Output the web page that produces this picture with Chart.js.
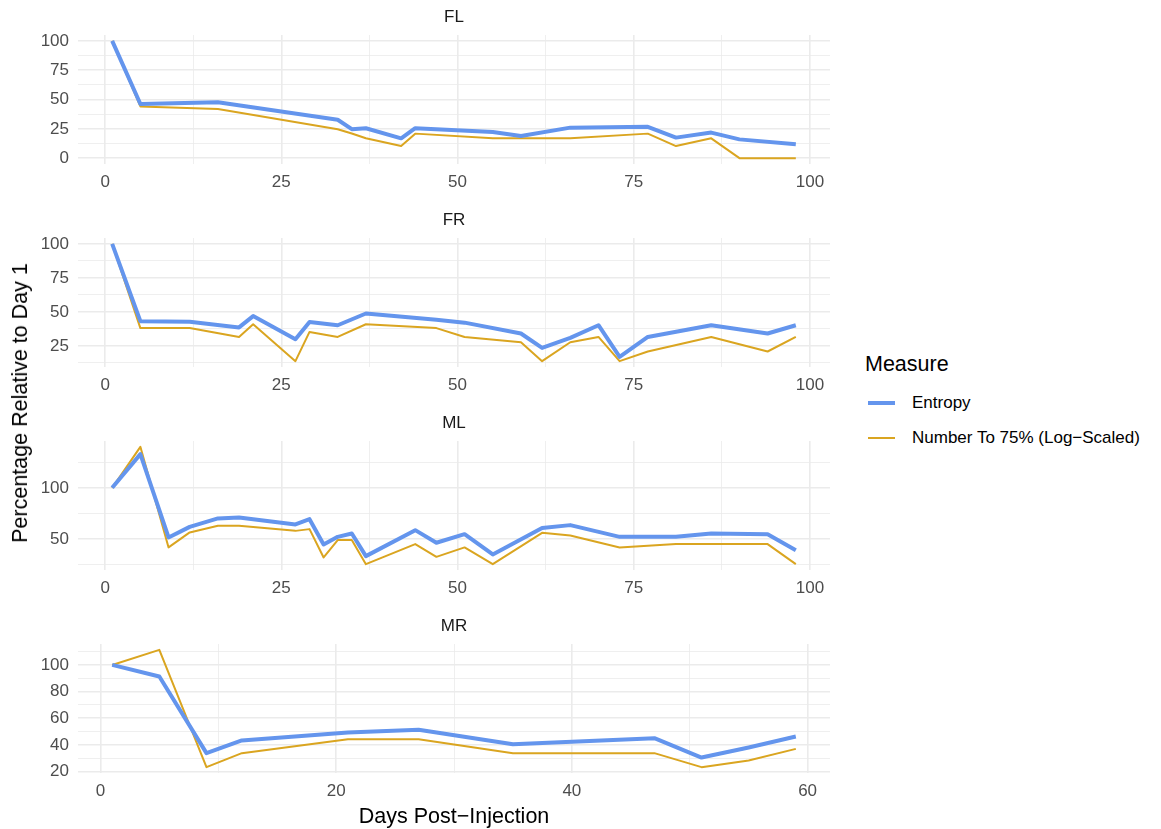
<!DOCTYPE html>
<html>
<head>
<meta charset="utf-8">
<script src="https://cdn.jsdelivr.net/npm/chart.js@4.4.1/dist/chart.umd.min.js"></script>
<style>
  html, body { margin: 0; padding: 0; background: #fff; }
  body { width: 1161px; height: 829px; position: relative; overflow: hidden; font-family: "Liberation Sans", Arial, sans-serif; }
  canvas { position: absolute; left: 0; }
  .strip { position: absolute; width: 200px; margin-left: -100px; text-align: center; font-size: 17px; color: #1a1a1a; line-height: 20px; }
  .axis-title { position: absolute; font-size: 21.5px; color: #000; white-space: nowrap; line-height: 26px; }
  .legend-title { position: absolute; left: 865px; top: 351px; font-size: 21.5px; line-height: 26px; color: #000; }
  .key { position: absolute; left: 868px; width: 27px; }
  .key-label { position: absolute; left: 912px; font-size: 17px; line-height: 20px; color: #000; white-space: nowrap; }
</style>
</head>
<body>

<script>
// Days post-injection and values (% of day 1) per panel
const flDays = [1, 5, 16, 33, 35, 37, 42, 44, 55, 59, 66, 77, 81, 86, 90, 98];
const flEntropy = [100, 46.2, 47.6, 32.7, 24.7, 25.5, 16.9, 25.5, 22.3, 18.9, 26, 26.7, 17.5, 21.8, 16, 11.8];
const flNumber = [100, 44.1, 41.9, 24.7, 21, 16.9, 10.3, 20.9, 16.9, 16.9, 16.9, 20.9, 10.3, 16.9, 0, 0];

const frDays = [1, 5, 12, 19, 21, 27, 29, 33, 37, 47, 51, 59, 62, 66, 70, 73, 77, 86, 94, 98];
const frEntropy = [100, 43.2, 42.7, 38.6, 46.9, 29.9, 42.6, 40.2, 48.8, 44.3, 42.1, 34.1, 23.5, 30.9, 40.2, 17.0, 31.6, 40.2, 34.1, 40.2];
const frNumber = [100, 38.1, 38.1, 31.6, 40.9, 13.8, 35.3, 31.6, 40.9, 38.1, 31.6, 27.7, 13.8, 27.7, 31.6, 13.8, 20.9, 31.6, 20.9, 31.6];

const mlDays = [1, 5, 9, 12, 16, 19, 27, 29, 31, 33, 35, 37, 44, 47, 51, 55, 62, 66, 73, 81, 86, 94, 98];
const mlEntropy = [100, 132.8, 51.7, 62, 70.2, 71.2, 64.4, 69.5, 44.8, 52.3, 55.6, 33.5, 58.8, 46.5, 54.9, 35.1, 61, 63.7, 52.3, 52.3, 55.6, 54.9, 39.3];
const mlNumber = [100, 139.9, 42, 56.6, 63, 63, 58.1, 59.8, 32.2, 49.1, 49.1, 25.7, 45.2, 32.8, 42, 25.7, 56.2, 53.6, 42, 45.2, 45.2, 45.2, 25.7];

const mrDays = [1, 5, 9, 12, 21, 27, 35, 47, 51, 55, 59];
const mrEntropy = [100, 91.3, 33.8, 43.3, 49.3, 51.3, 40.5, 45, 30.5, 38, 46.3];
const mrNumber = [100, 111.3, 23.3, 33.8, 44.3, 44.3, 33.8, 33.8, 23.3, 28.3, 37.0];

// tick labels (major) and grid lines (major + minor)
const dayTicks100 = [0, 25, 50, 75, 100];
const dayGrid100 = [0, 12.5, 25, 37.5, 50, 62.5, 75, 87.5, 100];
const dayTicks60 = [0, 20, 40, 60];
const dayGrid60 = [0, 10, 20, 30, 40, 50, 60];
const pctTicksFL = [0, 25, 50, 75, 100];
const pctGridFL = [0, 12.5, 25, 37.5, 50, 62.5, 75, 87.5, 100];
const pctTicksFR = [25, 50, 75, 100];
const pctGridFR = [12.5, 25, 37.5, 50, 62.5, 75, 87.5, 100];
const pctTicksML = [50, 100];
const pctGridML = [25, 50, 75, 100, 125];
const pctTicksMR = [20, 40, 60, 80, 100];
const pctGridMR = [20, 30, 40, 50, 60, 70, 80, 90, 100, 110];

const seriesNames = ["Entropy", "Number To 75% (Log\u2212Scaled)"];

const COLORS = {
  entropy: "#6495ED",
  number: "#DAA520",
  grid: "#EBEBEB",
  tick: "#4d4d4d",
};

const PLOT_LEFT = 78;
const PLOT_RIGHT = 830;
const PLOT_H = 129;
const PAD_TOP = 24; // must exceed the y axis label overhang (half label + padding)
const XAXIS_H = 36;

const panels = [
  { name: "FL", top: 35, days: flDays, a: flEntropy, b: flNumber, x: [-3.85, 102.85], y: [-5, 105],
    xt: dayTicks100, xg: dayGrid100, yt: pctTicksFL, yg: pctGridFL },
  { name: "FR", top: 238, days: frDays, a: frEntropy, b: frNumber, x: [-3.85, 102.85], y: [9.5, 104.3],
    xt: dayTicks100, xg: dayGrid100, yt: pctTicksFR, yg: pctGridFR },
  { name: "ML", top: 441, days: mlDays, a: mlEntropy, b: mlNumber, x: [-3.85, 102.85], y: [20, 145.6],
    xt: dayTicks100, xg: dayGrid100, yt: pctTicksML, yg: pctGridML },
  { name: "MR", top: 644, days: mrDays, a: mrEntropy, b: mrNumber, x: [-1.9, 61.9], y: [18.9, 115.7],
    xt: dayTicks60, xg: dayGrid60, yt: pctTicksMR, yg: pctGridMR },
];

function toPoints(days, vals) {
  return days.map((d, i) => ({ x: d, y: vals[i] }));
}

function axis(range, grid, labels, isY) {
  return {
    type: "linear",
    min: range[0],
    max: range[1],
    afterBuildTicks: (s) => { s.ticks = grid.map((v) => ({ value: v })); },
    afterFit: (s) => { if (isY) s.width = PLOT_LEFT; else s.height = XAXIS_H; },
    border: { display: false },
    grid: {
      drawTicks: false,
      color: COLORS.grid,
      lineWidth: (ctx) => (ctx.tick && labels.includes(ctx.tick.value) ? 1.6 : 0.8),
    },
    ticks: {
      autoSkip: false,
      maxRotation: 0,
      padding: isY ? 9 : 8,
      color: COLORS.tick,
      font: { family: "Liberation Sans", size: 17 },
      callback: (v) => (labels.includes(v) ? String(v) : ""),
    },
  };
}

function addText(cls, text, css) {
  const el = document.createElement("div");
  el.className = cls;
  el.textContent = text;
  Object.assign(el.style, css);
  document.body.appendChild(el);
  return el;
}

panels.forEach((p) => {
  const canvas = document.createElement("canvas");
  canvas.width = PLOT_RIGHT + 20;
  canvas.height = PAD_TOP + PLOT_H + XAXIS_H;
  canvas.style.top = (p.top - PAD_TOP) + "px";
  document.body.appendChild(canvas);

  addText("strip", p.name, { left: (PLOT_LEFT + PLOT_RIGHT) / 2 + "px", top: (p.top - 28) + "px" });

  new Chart(canvas, {
    type: "line",
    data: {
      datasets: [
        {
          label: seriesNames[0],
          data: toPoints(p.days, p.a),
          borderColor: COLORS.entropy,
          borderWidth: 4,
          order: 0, // entropy drawn on top
        },
        {
          label: seriesNames[1],
          data: toPoints(p.days, p.b),
          borderColor: COLORS.number,
          borderWidth: 2,
          order: 1,
        },
      ],
    },
    options: {
      responsive: false,
      animation: false,
      devicePixelRatio: 1,
      layout: { padding: { top: PAD_TOP, right: 20, left: 0, bottom: 0 } },
      elements: {
        point: { radius: 0, hoverRadius: 0 },
        line: { tension: 0, borderJoinStyle: "round", borderCapStyle: "butt", fill: false },
      },
      plugins: { legend: { display: false }, tooltip: { enabled: false } },
      scales: {
        x: axis(p.x, p.xg, p.xt, false),
        y: axis(p.y, p.yg, p.yt, true),
      },
    },
  });
});

// shared axis titles
const yTitle = addText("axis-title", "Percentage Relative to Day 1", {});
yTitle.style.left = "20px";
yTitle.style.top = "403px";
yTitle.style.transform = "translate(-50%, -50%) rotate(-90deg)";

const xTitle = addText("axis-title", "Days Post\u2212Injection", {});
xTitle.style.left = (PLOT_LEFT + PLOT_RIGHT) / 2 + "px";
xTitle.style.top = "816px";
xTitle.style.transform = "translate(-50%, -50%)";

// legend
addText("legend-title", "Measure", {});
addText("key", "", { top: "401px", height: "4px", background: COLORS.entropy });
addText("key", "", { top: "437px", height: "2px", background: COLORS.number });
addText("key-label", seriesNames[0], { top: "393px" });
addText("key-label", seriesNames[1], { top: "428px" });
</script>
</body>
</html>
